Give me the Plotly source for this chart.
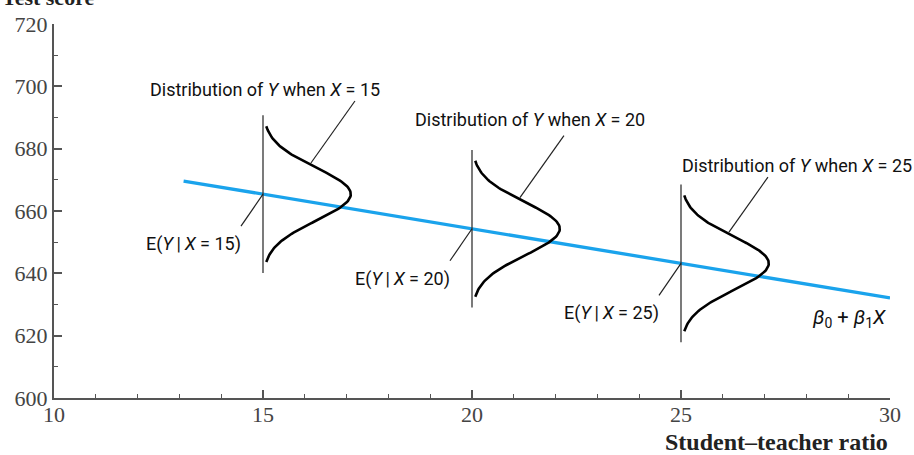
import numpy as np
import plotly.graph_objects as go

# Population regression line: Test score = beta0 + beta1 * STR
beta0 = 698.7
beta1 = -2.22
line_x = [13.1, 30.0]

# Conditional distributions drawn at these student-teacher ratios
dist_x = [15, 20, 25]
dist_sd = 8.5          # spread of each conditional distribution (score points)
dist_half_span = 21.8  # curve drawn from mean - span to mean + span
dist_peak_width = 2.1  # horizontal height of each density (x units)
stem_half_span = 25.3  # half-length of the vertical stem at each x

# Axes
x_ticks = [10, 15, 20, 25, 30]
y_ticks = [600, 620, 640, 660, 680, 700, 720]
x_title = "Student–teacher ratio"
y_title = "Test score"

# Label offsets (pixels) relative to the point E(Y|X) on the line
dist_label_dx = [-115, -59, -1]
dist_label_dy = [105, 109, 98]
# Leader-line extents (pixels) from the curve up to each distribution label
leader_dx = [44, 44, 39]
leader_dy = [62, 62, 55]

axis_color = "#555555"
serif = "Liberation Serif, Times New Roman, serif"
sans = "Roboto, Arial, sans-serif"
thin = "\u2009"

fig = go.Figure()

# Regression line
fig.add_trace(go.Scatter(
    x=line_x, y=[beta0 + beta1 * v for v in line_x],
    mode="lines", line=dict(color="#1AA3EC", width=3.3),
    hoverinfo="skip", showlegend=False))

for i, x0 in enumerate(dist_x):
    mu = beta0 + beta1 * x0
    # vertical stem
    fig.add_trace(go.Scatter(
        x=[x0, x0], y=[mu - stem_half_span, mu + stem_half_span],
        mode="lines", line=dict(color="#333333", width=1.3),
        hoverinfo="skip", showlegend=False))
    # density curve lying on its side
    yy = np.linspace(mu - dist_half_span, mu + dist_half_span, 121)
    xx = x0 + dist_peak_width * np.exp(-(yy - mu) ** 2 / (2 * dist_sd ** 2))
    fig.add_trace(go.Scatter(
        x=xx, y=yy, mode="lines", line=dict(color="black", width=2.6),
        hoverinfo="skip", showlegend=False))

    # leader from E(Y|X) label to the point on the line
    fig.add_shape(type="line", xref="x", yref="y",
                  xsizemode="pixel", ysizemode="pixel",
                  xanchor=x0, yanchor=mu, x0=-22, y0=-32, x1=0, y1=0,
                  line=dict(color="#222222", width=1.2))
    fig.add_annotation(x=x0, y=mu, xref="x", yref="y",
                       text=f"E(<i>Y</i>{thin}|{thin}<i>X</i> = {x0})",
                       showarrow=False, xanchor="right", yanchor="middle",
                       xshift=-20, yshift=-50,
                       font=dict(family=sans, size=18, color="#111111"))

    # leader from distribution label to the curve
    y_on = mu + 10
    x_on = x0 + dist_peak_width * np.exp(-(10.0) ** 2 / (2 * dist_sd ** 2))
    fig.add_shape(type="line", xref="x", yref="y",
                  xsizemode="pixel", ysizemode="pixel",
                  xanchor=x_on, yanchor=y_on, x0=4, y0=0,
                  x1=4 + leader_dx[i], y1=leader_dy[i],
                  line=dict(color="#222222", width=1.2))
    fig.add_annotation(x=x0, y=mu, xref="x", yref="y",
                       text=f"Distribution of <i>Y</i> when <i>X</i> = {x0}",
                       showarrow=False, xanchor="left", yanchor="middle",
                       xshift=dist_label_dx[i], yshift=dist_label_dy[i],
                       font=dict(family=sans, size=18, color="#111111"))

# Line label
fig.add_annotation(x=line_x[1], y=beta0 + beta1 * line_x[1], xref="x", yref="y",
                   text="<i>β</i><sub>0</sub> + <i>β</i><sub>1</sub><i>X</i>",
                   showarrow=False, xanchor="right", yanchor="middle",
                   xshift=-2, yshift=-20,
                   font=dict(family=sans, size=20, color="#111111"))

# Axis titles
fig.add_annotation(x=1, y=0, xref="paper", yref="paper", text=f"<b>{x_title}</b>",
                   showarrow=False, xanchor="right", yanchor="middle",
                   xshift=0, yshift=-44,
                   font=dict(family=serif, size=24, color="#222222"))
fig.add_annotation(x=0, y=1, xref="paper", yref="paper", text=f"<b>{y_title}</b>",
                   showarrow=False, xanchor="left", yanchor="bottom",
                   xshift=-54, yshift=12,
                   font=dict(family=serif, size=22, color="#222222"))

tick_font = dict(family=serif, size=22, color="#444444")
fig.update_xaxes(range=[10, 30], tickvals=x_ticks, ticks="inside", ticklen=8,
                 tickwidth=1.5, tickcolor=axis_color, showline=True,
                 linecolor=axis_color, linewidth=2, showgrid=False, zeroline=False,
                 tickfont=tick_font, ticklabelstandoff=-4,
                 minor=dict(dtick=1, ticks="inside", ticklen=4, tickwidth=1.3,
                            tickcolor=axis_color, showgrid=False))
fig.update_yaxes(range=[600, 720], tickvals=y_ticks, ticks="inside", ticklen=8,
                 tickwidth=1.5, tickcolor=axis_color, showline=True,
                 linecolor=axis_color, linewidth=2, showgrid=False, zeroline=False,
                 tickfont=tick_font,
                 minor=dict(dtick=10, ticks="inside", ticklen=4, tickwidth=1.3,
                            tickcolor=axis_color, showgrid=False))

fig.update_layout(width=914, height=455,
                  margin=dict(l=54, r=24, t=18, b=57),
                  plot_bgcolor="white", paper_bgcolor="white",
                  showlegend=False)

fig.write_html("out.html")
